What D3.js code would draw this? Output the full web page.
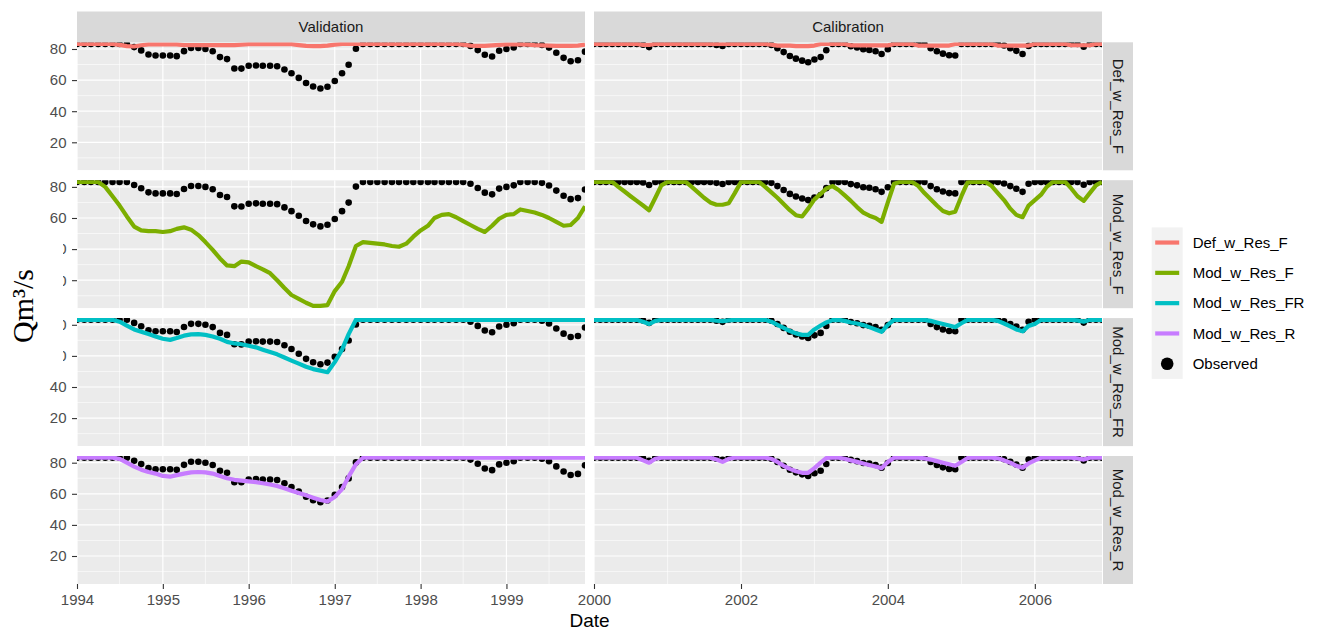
<!DOCTYPE html>
<meta charset="utf-8">
<script src="https://d3js.org/d3.v7.min.js"></script>
<style>
  body { margin: 0; background: #fff; }
  text { font-family: "Liberation Sans", Arial, sans-serif; }
</style>
<div id="my_dataviz"></div>
<script>

  // ---- data (monthly) ----
  // Validation: Jan 1994 .. Dec 1999 (72 months), Calibration: Jan 2000 .. Dec 2006 (84 months)
  var facetCols = ["Validation", "Calibration"];
  var facetRows = ["Def_w_Res_F", "Mod_w_Res_F", "Mod_w_Res_FR", "Mod_w_Res_R"];
  var seriesColors = ["#F8766D", "#7CAE00", "#00BFC4", "#C77CFF"];
  var legendLabels = ["Def_w_Res_F", "Mod_w_Res_F", "Mod_w_Res_FR", "Mod_w_Res_R", "Observed"];
  var yTicks = [20, 40, 60, 80];

  var obsValidation = [83.2,83.2,83.2,83.2,83.2,83.2,83.2,83.2,81.2,79.1,76.5,75.8,75.8,75.8,75.4,78.6,
    80.6,80.6,80,78.5,74.8,73.5,67.5,67.4,69.2,69.4,69.2,69.2,68.9,66.8,64.4,61.4,58.1,55.9,54.6,55.7,
    59.4,64.4,69.9,80.2,83.2,83.2,83.2,83.2,83.2,83.2,83.2,83.2,83.2,83.2,83.2,83.2,83.2,83.2,83.2,
    82,79.3,76.3,75.2,78.9,80,81,83.2,83.2,83.2,82.6,80.9,77.6,74.3,72.1,72.8,78.3];
  var obsCalibration = [83.2,83.2,83.2,83.2,83.2,83.2,83.2,83.2,82.8,81.2,83.2,83.2,83.2,83.2,83.2,83.2,
    83.2,83.2,83.2,83.2,82.6,81.9,83.2,83.2,83.2,83.2,83.2,83.2,83.2,82.6,80.5,78,75.5,73.8,72.5,71.5,
    73.2,74.8,79.2,83.2,83.2,83.2,81.8,81,79.8,79.4,78.5,76.8,79.8,83.2,83.2,83.2,83.2,83.2,83.2,
    80.5,78.5,77,76,75.8,83.2,83.2,83.2,83.2,83.2,83.2,83.2,82.2,80.5,78.8,76.8,82,83.2,83.2,83.2,
    83.2,83.2,83.2,83.2,83.2,81.4,83.2,83.2,83.2];

  var defValidation = [83.2,83.2,83.2,83.2,83.2,83.2,82.6,81.8,81.6,82.4,83,83,83,83,83,82.5,82.5,82.5,
    82.5,82.5,82.5,82.5,82.5,82.8,83.1,83.1,83.1,83.1,83.1,83.1,83.1,82.5,82,81.8,81.8,82.2,82.8,83.2,
    83.2,83.2,83.2,83.2,83.2,83.2,83.2,83.2,83.2,83.2,83.2,83.2,83.2,83.2,83.2,83.2,82.8,82.2,82,82,
    82.3,82.6,83,83,83,82.8,82.5,82.3,82.2,82,82,82,82.2,82.8];
  var defCalibration = [83.2,83.2,83.2,83.2,83.2,83.2,83.2,83.2,82.6,82.6,83.2,83.2,83.2,83.2,83.2,83.2,
    83.2,83.2,83.2,83.2,83.2,83.2,83.2,83.2,83.2,83.2,83.2,83.2,83.2,82.8,82.2,82.2,82.2,81.8,81.8,
    81.8,82.2,83.2,83.2,83.2,83.2,83.2,82.3,82.3,82.3,82.3,82.3,82.3,82.3,83.2,83.2,83.2,83.2,82.2,
    82.2,82.2,82.2,82.2,82.2,83.2,83.2,83.2,83.2,83.2,83.2,83.2,82.2,82.2,82.2,82.2,82.2,82.2,83.2,
    83.2,83.2,83.2,83.2,83.2,82.4,82.4,82.4,82.4,83.2,83.2];

  var modFValidation = [83.2,83.2,83.2,83.2,80,74,68,61,54.5,52,51.5,51.5,51,51.5,53,54,52.5,49,44.5,
    39.5,34,29.5,29,32,31.5,29,27,24.5,20,15,10.5,8,5.5,3.5,3.5,4,13,19,29,42,44.5,44,43.5,43,42,41.5,
    43.5,48,52,55,60,62,62.5,60.5,58,55.5,53,51,55,59.5,62,62.5,65.5,64.5,63.5,62,60,57.5,55,55.5,60,67.5];
  var modFCalibration = [83.2,83.2,83.2,83.2,80,77,74,71,68,65,73,81,83.2,83.2,83.2,83.2,80,76.5,73,70,
    68.5,68.5,69.5,76,83.2,83.2,83.2,83.2,80,76.5,73,69,65,61.8,61,66,72,75.5,79,80.5,78,74.5,71,67,
    63.5,61.5,60,57.5,70,82,83.2,83.2,83.2,80.5,76,72,68,64.5,63,64,74,83,83.2,83.2,83.2,80.5,76,71.5,
    66,62,60.5,68,71.5,75,80,83.2,83.2,83.2,79,74,71,76,81,83.2];

  var modFRValidation = [83.2,83.2,83.2,83.2,83.2,83.2,82,79.5,77,75.5,74,72.5,71,70.3,71.5,73,73.8,74,
    73.5,72.5,71,69,68,67.5,66.5,65.5,64,62.5,61,59,57,55,53,51.5,50.5,49.5,56,64,74,83.2,83.2,83.2,
    83.2,83.2,83.2,83.2,83.2,83.2,83.2,83.2,83.2,83.2,83.2,83.2,83.2,83.2,83.2,83.2,83.2,83.2,83.2,
    83.2,83.2,83.2,83.2,83.2,83.2,83.2,83.2,83.2,83.2,83.2];
  var modFRCalibration = [83.2,83.2,83.2,83.2,83.2,83.2,83.2,83.2,82,80.5,82.5,83.2,83.2,83.2,83.2,83.2,
    83.2,83.2,83.2,83.2,82.6,82.4,82.8,83.2,83.2,83.2,83.2,83.2,83.2,82,80,78,76,74.5,73.5,73.5,77,
    79.5,81.5,83,83.2,82.5,81.5,80.8,79.8,78.5,77,75.5,80,83.2,83.2,83.2,83.2,83.2,83.2,82.5,81.5,
    80.5,79.5,78.5,81,83.2,83.2,83.2,83.2,83.2,82.5,80.8,79,77,75.8,79.3,80.5,83.2,83.2,83.2,83.2,
    83.2,83.2,82.8,82,83.2,83.2,83.2];

  var modRValidation = [83.2,83.2,83.2,83.2,83.2,83.2,82.5,80,77.5,75.5,74,73,71.5,71,72,73,73.8,74,
    73.8,73,71.5,70,69,68.5,68,67.5,66.8,66,65,63.5,62,60.5,59,57.5,56,55,58,63,71,79,83.2,83.2,83.2,
    83.2,83.2,83.2,83.2,83.2,83.2,83.2,83.2,83.2,83.2,83.2,83.2,83.2,83.2,83.2,83.2,83.2,83.2,83.2,
    83.2,83.2,83.2,83.2,83.2,83.2,83.2,83.2,83.2,83.2];
  var modRCalibration = [83.2,83.2,83.2,83.2,83.2,83.2,83.2,83.2,81.5,80,82.5,83.2,83.2,83.2,83.2,83.2,
    83.2,83.2,83.2,83.2,82,80.5,82.5,83.2,83.2,83.2,83.2,83.2,83.2,82.5,80.5,78,76,74.5,73.5,73.5,76.5,
    80,83,83.2,83.2,82.5,81.5,80.5,79.5,78.5,77.5,76.5,80.5,83.2,83.2,83.2,83.2,83.2,82.8,82,81,80,79,
    78,80.5,83,83.2,83.2,83.2,83.2,82.8,81.5,80,78,76.8,79.5,81.5,83.2,83.2,83.2,83.2,83.2,83.2,82.8,
    82,83.2,83.2,83.2];

  var observed = [obsValidation, obsCalibration];
  var models = [
    [defValidation, defCalibration],
    [modFValidation, modFCalibration],
    [modFRValidation, modFRCalibration],
    [modRValidation, modRCalibration]
  ];
  var colStart = [new Date(1994, 0, 1), new Date(2000, 0, 1)];

  // ---- layout ----
  var width = 1322, height = 630;
  var panelX = [77, 594], panelW = 508;
  var rowTop = [42.3, 180.2, 318.1, 456.0], panelH = 128;

  var svg = d3.select("#my_dataviz")
    .append("svg")
      .attr("width", width)
      .attr("height", height);
  svg.append("rect").attr("width", width).attr("height", height).attr("fill", "#fff");

  function monthDates(start, n) {
    return d3.range(n).map(function(i) { return d3.timeMonth.offset(start, i); });
  }

  var xScales = [
    d3.scaleTime().domain([colStart[0], new Date(1999, 11, 1)]).range([panelX[0], panelX[0] + panelW]),
    d3.scaleTime().domain([colStart[1], new Date(2006, 11, 1)]).range([panelX[1], panelX[1] + panelW])
  ];
  var majorX = [d3.timeYear.range(new Date(1994, 0, 1), new Date(2000, 0, 1)),
                d3.timeYear.every(2).range(new Date(2000, 0, 1), new Date(2007, 0, 1))];
  var minorX = [majorX[0].map(function(d) { return d3.timeMonth.offset(d, 6); }),
                [new Date(2001, 0, 1), new Date(2003, 0, 1), new Date(2005, 0, 1)]];

  facetRows.forEach(function(rowName, r) {
    var y = d3.scaleLinear().domain([2, 84.3]).range([rowTop[r] + panelH, rowTop[r]]);

    facetCols.forEach(function(colName, c) {
      var x = xScales[c];
      var id = "clip" + r + "_" + c;
      svg.append("clipPath").attr("id", id)
        .append("rect")
          .attr("x", panelX[c]).attr("y", rowTop[r])
          .attr("width", panelW).attr("height", panelH);

      var g = svg.append("g").attr("clip-path", "url(#" + id + ")");
      g.append("rect")
        .attr("x", panelX[c]).attr("y", rowTop[r])
        .attr("width", panelW).attr("height", panelH)
        .attr("fill", "#EBEBEB");

      // grid
      [10, 30, 50, 70].forEach(function(v) {
        g.append("line").attr("x1", panelX[c]).attr("x2", panelX[c] + panelW)
          .attr("y1", y(v)).attr("y2", y(v)).attr("stroke", "#fff").attr("stroke-width", 0.6);
      });
      minorX[c].forEach(function(d) {
        g.append("line").attr("x1", x(d)).attr("x2", x(d))
          .attr("y1", rowTop[r]).attr("y2", rowTop[r] + panelH).attr("stroke", "#fff").attr("stroke-width", 0.6);
      });
      yTicks.forEach(function(v) {
        g.append("line").attr("x1", panelX[c]).attr("x2", panelX[c] + panelW)
          .attr("y1", y(v)).attr("y2", y(v)).attr("stroke", "#fff").attr("stroke-width", 1.2);
      });
      majorX[c].forEach(function(d) {
        g.append("line").attr("x1", x(d)).attr("x2", x(d))
          .attr("y1", rowTop[r]).attr("y2", rowTop[r] + panelH).attr("stroke", "#fff").attr("stroke-width", 1.2);
      });

      // observed points
      var dates = monthDates(colStart[c], observed[c].length);
      g.selectAll("circle.obs")
        .data(observed[c])
        .enter()
        .append("circle")
          .attr("class", "obs")
          .attr("cx", function(d, i) { return x(dates[i]); })
          .attr("cy", function(d) { return y(d); })
          .attr("r", 3.3)
          .attr("fill", "#000");

      // model line
      var mdates = monthDates(colStart[c], models[r][c].length);
      var line = d3.line()
        .x(function(d, i) { return x(mdates[i]); })
        .y(function(d) { return y(d); });
      g.append("path")
        .datum(models[r][c])
        .attr("d", line)
        .attr("fill", "none")
        .attr("stroke", seriesColors[r])
        .attr("stroke-width", 4.2)
        .attr("stroke-linejoin", "round");
    });

    // y axis
    var ya = svg.append("g")
      .attr("transform", "translate(" + panelX[0] + ",0)")
      .call(d3.axisLeft(y).tickValues(yTicks).tickSize(5).tickPadding(5.5));
    ya.select(".domain").remove();
    ya.selectAll("line").attr("stroke", "#333").attr("stroke-width", 1.1);
    ya.selectAll("text").attr("fill", "#4D4D4D").style("font-size", "15px")
      .style("font-family", "Liberation Sans, Arial, sans-serif");

    // right strip
    svg.append("rect")
      .attr("x", panelX[1] + panelW + 1).attr("y", rowTop[r])
      .attr("width", 30).attr("height", panelH)
      .attr("fill", "#D9D9D9");
    svg.append("text")
      .attr("transform", "translate(" + (panelX[1] + panelW + 16) + "," + (rowTop[r] + panelH / 2) + ") rotate(90)")
      .attr("text-anchor", "middle")
      .attr("dy", "0.35em")
      .attr("fill", "#1A1A1A")
      .style("font-size", "15px")
      .text(rowName);
  });

  // top strips
  facetCols.forEach(function(colName, c) {
    svg.append("rect")
      .attr("x", panelX[c]).attr("y", 11.5)
      .attr("width", panelW).attr("height", rowTop[0] - 11.5)
      .attr("fill", "#D9D9D9");
    svg.append("text")
      .attr("x", panelX[c] + panelW / 2).attr("y", (11.5 + rowTop[0]) / 2)
      .attr("text-anchor", "middle")
      .attr("dy", "0.35em")
      .attr("fill", "#1A1A1A")
      .style("font-size", "15px")
      .text(colName);

    // x axis
    var xa = svg.append("g")
      .attr("transform", "translate(0," + (rowTop[3] + panelH) + ")")
      .call(d3.axisBottom(xScales[c]).tickValues(majorX[c]).tickFormat(d3.timeFormat("%Y"))
        .tickSize(5).tickPadding(5));
    xa.select(".domain").remove();
    xa.selectAll("line").attr("stroke", "#333").attr("stroke-width", 1.1);
    xa.selectAll("text").attr("fill", "#4D4D4D").style("font-size", "15px")
      .style("font-family", "Liberation Sans, Arial, sans-serif");
  });

  // y title (sits on a white box that hides part of the tick labels)
  svg.append("rect").attr("x", 0).attr("y", 228).attr("width", 63).attr("height", 149).attr("fill", "#fff");
  svg.append("text")
    .attr("transform", "translate(33,306) rotate(-90)")
    .attr("text-anchor", "middle")
    .attr("fill", "#000")
    .style("font-family", "Liberation Serif, Times New Roman, serif")
    .style("font-size", "30px")
    .text("Qm³/s");

  // x title
  svg.append("text")
    .attr("x", panelX[0] + (panelX[1] + panelW - panelX[0]) / 2)
    .attr("y", 627)
    .attr("text-anchor", "middle")
    .attr("fill", "#000")
    .style("font-size", "19px")
    .text("Date");

  // legend
  var keyX = 1151.7, keyW = 31, keyH = 30.3, keyTop = 227.4;
  var legend = svg.append("g");
  legend.append("rect")
    .attr("x", keyX).attr("y", keyTop)
    .attr("width", keyW).attr("height", keyH * legendLabels.length)
    .attr("fill", "#F2F2F2");
  legendLabels.forEach(function(lab, i) {
    var cy = keyTop + keyH * (i + 0.5);
    if (i < seriesColors.length) {
      legend.append("line")
        .attr("x1", keyX + 3.5).attr("x2", keyX + keyW - 3.5)
        .attr("y1", cy).attr("y2", cy)
        .attr("stroke", seriesColors[i]).attr("stroke-width", 4.2);
    } else {
      legend.append("circle").attr("cx", keyX + keyW / 2).attr("cy", cy).attr("r", 6.3).attr("fill", "#000");
    }
    legend.append("text")
      .attr("x", 1192.7).attr("y", cy)
      .attr("dy", "0.35em")
      .attr("fill", "#000")
      .style("font-size", "15px")
      .text(lab);
  });

</script>
